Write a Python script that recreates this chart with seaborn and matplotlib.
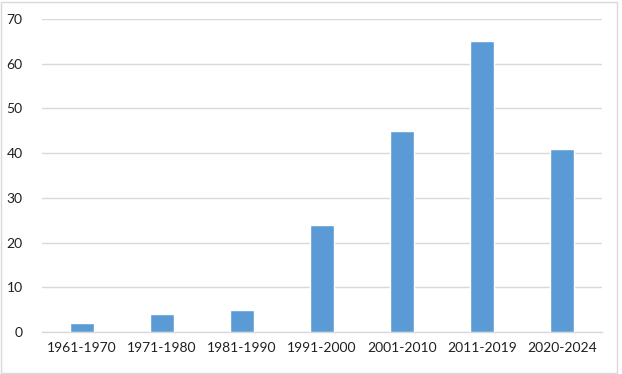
import matplotlib
matplotlib.use("Agg")
import matplotlib.pyplot as plt
import seaborn as sns
import pandas as pd

# Chart data
periods = ["1961-1970", "1971-1980", "1981-1990", "1991-2000",
           "2001-2010", "2011-2019", "2020-2024"]
counts = [2, 4, 5, 24, 45, 65, 41]
y_ticks = [0, 10, 20, 30, 40, 50, 60, 70]

df = pd.DataFrame({"period": periods, "count": counts})

sns.set_theme(style="white")
plt.rcParams["font.family"] = ["Lato", "DejaVu Sans"]

fig = plt.figure(figsize=(6.22, 3.74), dpi=100)
ax = fig.add_axes([0.0675, 0.1123, 0.9005, 0.8369])

sns.barplot(data=df, x="period", y="count", color="#5B9BD5",
            width=0.31, saturation=1, ax=ax, zorder=3)

ax.set_ylim(0, 70)
ax.set_yticks(y_ticks)
ax.set_xlim(-0.5, len(periods) - 0.5)
ax.grid(axis="y", color="#D9D9D9", linewidth=1, zorder=0)
ax.set_xlabel("")
ax.set_ylabel("")

for side in ["top", "right", "left"]:
    ax.spines[side].set_visible(False)
ax.spines["bottom"].set_color("#D9D9D9")
ax.spines["bottom"].set_linewidth(1)

ax.tick_params(axis="both", length=0, labelsize=10, colors="#202020")
ax.tick_params(axis="y", pad=14)
ax.tick_params(axis="x", pad=7)

# light frame around the whole chart
fig.patches.append(plt.Rectangle((0.002, 0.004), 0.99, 0.99, transform=fig.transFigure,
                                 fill=False, edgecolor="#D9D9D9", linewidth=1))

fig.savefig("out.png", dpi=100)
